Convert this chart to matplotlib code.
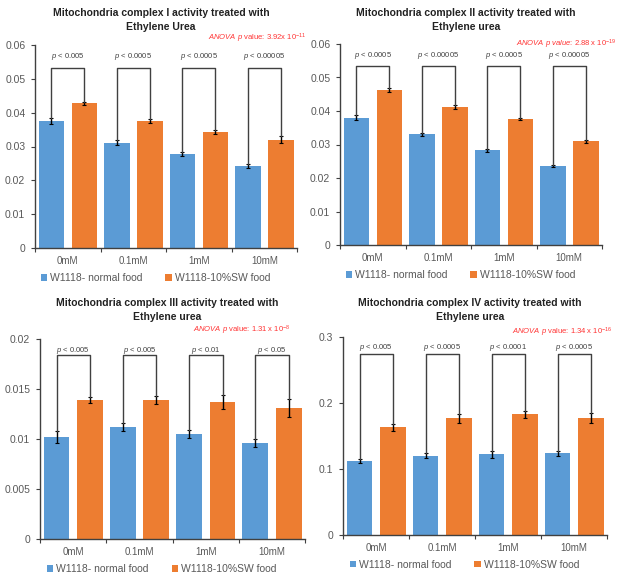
import matplotlib
matplotlib.use("Agg")
import matplotlib.pyplot as plt
import numpy as np

plt.rcParams['font.family'] = ['Liberation Sans', 'DejaVu Sans']
plt.rcParams['mathtext.fontset'] = 'custom'
plt.rcParams['mathtext.it'] = 'Liberation Sans:italic'
plt.rcParams['mathtext.rm'] = 'Liberation Sans'

categories = ["0mM", "0.1mM", "1mM", "10mM"]
series_names = ["W1118- normal food", "W1118-10%SW food"]

titles = [
    "Mitochondria complex I activity treated with\nEthylene Urea",
    "Mitochondria complex II activity treated with\nEthylene urea",
    "Mitochondria complex III activity treated with\nEthylene urea",
    "Mitochondria complex IV activity treated with\nEthylene urea",
]

c1_normal = [0.0375, 0.0311, 0.0278, 0.0241]
c1_normal_err = [0.0008, 0.0007, 0.0006, 0.0006]
c1_sw = [0.0428, 0.0375, 0.0343, 0.0320]
c1_sw_err = [0.0004, 0.0007, 0.0005, 0.0010]

c2_normal = [0.0380, 0.0330, 0.0283, 0.0236]
c2_normal_err = [0.0007, 0.0004, 0.0004, 0.0003]
c2_sw = [0.0462, 0.0412, 0.0376, 0.0309]
c2_sw_err = [0.0006, 0.0005, 0.0003, 0.0005]

c3_normal = [0.0102, 0.0112, 0.0105, 0.0096]
c3_normal_err = [0.0006, 0.0004, 0.0004, 0.0004]
c3_sw = [0.0139, 0.0139, 0.0137, 0.0131]
c3_sw_err = [0.0003, 0.0004, 0.0007, 0.0009]

c4_normal = [0.112, 0.120, 0.122, 0.124]
c4_normal_err = [0.003, 0.004, 0.005, 0.004]
c4_sw = [0.163, 0.177, 0.183, 0.177]
c4_sw_err = [0.005, 0.007, 0.005, 0.008]

c1_p = ["< 0.005", "< 0.0005", "< 0.0005", "< 0.00005"]
c2_p = ["< 0.0005", "< 0.00005", "< 0.0005", "< 0.00005"]
c3_p = ["< 0.005", "< 0.005", "< 0.01", "< 0.05"]
c4_p = ["< 0.005", "< 0.0005", "< 0.0001", "< 0.0005"]

anova = [
    r"$\mathit{ANOVA\ p}$ value: 3.92x 10$^{-11}$",
    r"$\mathit{ANOVA\ p\ value}$: 2.88 x 10$^{-19}$",
    r"$\mathit{ANOVA\ p}$ value: 1.31 x 10$^{-8}$",
    r"$\mathit{ANOVA\ p}$ value: 1.34 x 10$^{-16}$",
]

y_max = [0.06, 0.06, 0.02, 0.3]
y_step = [0.01, 0.01, 0.005, 0.1]
y_labels = [
    ["0", "0.01", "0.02", "0.03", "0.04", "0.05", "0.06"],
    ["0", "0.01", "0.02", "0.03", "0.04", "0.05", "0.06"],
    ["0", "0.005", "0.01", "0.015", "0.02"],
    ["0", "0.1", "0.2", "0.3"],
]
bracket_frac = [0.885, 0.89, 0.92, 0.913]

panels = [
    (c1_normal, c1_normal_err, c1_sw, c1_sw_err, c1_p),
    (c2_normal, c2_normal_err, c2_sw, c2_sw_err, c2_p),
    (c3_normal, c3_normal_err, c3_sw, c3_sw_err, c3_p),
    (c4_normal, c4_normal_err, c4_sw, c4_sw_err, c4_p),
]

W, H = 621, 588
fig = plt.figure(figsize=(6.21, 5.88), dpi=100)
fig.patch.set_facecolor("white")

# axes rects in pixels: left, top, right, bottom
rects = [(35, 45, 297, 248), (340, 44, 602, 245), (40, 339, 305, 539), (343, 337, 607, 535)]
title_y = [8, 8, 298, 298]
anova_pos = [(306, 38), (616, 44), (290, 330), (612, 332)]

blue = "#5B9BD5"
orange = "#ED7D31"
grey_txt = "#595959"

for i, (nm, nme, sw, swe, pv) in enumerate(panels):
    l, t, r, b = rects[i]
    ax = fig.add_axes([l / W, 1 - b / H, (r - l) / W, (b - t) / H])
    x = np.arange(len(categories))
    ax.bar(x - 0.25, nm, width=0.39, color=blue, yerr=nme, capsize=1.6,
           error_kw=dict(elinewidth=1.0, capthick=0.8, ecolor="black"), label=series_names[0], zorder=2)
    ax.bar(x + 0.255, sw, width=0.39, color=orange, yerr=swe, capsize=1.6,
           error_kw=dict(elinewidth=1.0, capthick=0.8, ecolor="black"), label=series_names[1], zorder=2)
    ax.set_xlim(-0.5, 3.5)
    ax.set_ylim(0, y_max[i])
    ticks = np.arange(0, y_max[i] + y_step[i] / 2, y_step[i])
    ax.set_yticks(ticks)
    ax.set_yticklabels(y_labels[i])
    ax.set_xticks(x)
    ax.set_xticklabels(categories)
    ax.set_xticks(np.arange(-0.5, 3.6, 1.0), minor=True)
    ax.tick_params(axis="x", which="major", length=0, pad=6, labelsize=7, labelcolor=grey_txt)
    ax.tick_params(axis="x", which="minor", length=3, width=0.8, color="#404040", direction="out")
    ax.tick_params(axis="y", length=3, width=0.8, color="#404040", labelsize=7.5, labelcolor=grey_txt, pad=4)
    for s in ["top", "right"]:
        ax.spines[s].set_visible(False)
    for s in ["left", "bottom"]:
        ax.spines[s].set_color("#404040")
        ax.spines[s].set_linewidth(1.0)
    ax.set_facecolor("none")
    # brackets
    ytop = y_max[i] * bracket_frac[i]
    for k in range(len(categories)):
        x0 = x[k] - 0.25
        x1 = x[k] + 0.255
        y0 = nm[k] + nme[k]
        y1 = sw[k] + swe[k]
        ax.plot([x0, x0, x1, x1], [y0, ytop, ytop, y1], color="#404040", lw=1.0, zorder=3)
        ax.text((x0 + x1) / 2, y_max[i] * 0.945, r"$\mathit{p}$ " + pv[k], ha="center", va="center",
                fontsize=5.5, color="#404040")
    leg = ax.legend(loc="center", bbox_to_anchor=(0.46, -0.15), ncol=2, frameon=False, fontsize=7.5,
                    handlelength=0.6, handleheight=0.6, handletextpad=0.3, columnspacing=2.2)
    for txt in leg.get_texts():
        txt.set_color(grey_txt)
    cx = (l + r) / 2 - 5
    fig.text(cx / W, 1 - title_y[i] / H, titles[i], ha="center", va="top", fontsize=7.5,
             fontweight="bold", linespacing=1.45, color="#222222")
    ax_x, ax_y = anova_pos[i]
    fig.text(ax_x / W, 1 - ax_y / H, anova[i], ha="right", va="center", fontsize=5.5, color="#FF3333")

fig.savefig("out.png", dpi=100, facecolor="white")
